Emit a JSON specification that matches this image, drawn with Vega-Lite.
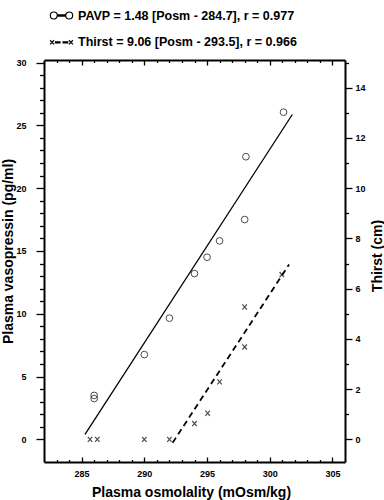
{
  "$schema": "https://vega.github.io/schema/vega-lite/v6.json",
  "autosize": "none",
  "width": 301,
  "height": 402,
  "padding": {"left": 44, "top": 60, "right": 39, "bottom": 38},
  "config": {
    "font": "Liberation Sans",
    "view": {"stroke": null}
  },
  "datasets": {
    "vasoPoints": [
      {"osm": 286.0, "vaso": 3.5},
      {"osm": 286.0, "vaso": 3.25},
      {"osm": 290.0, "vaso": 6.75},
      {"osm": 292.0, "vaso": 9.65},
      {"osm": 294.0, "vaso": 13.2},
      {"osm": 295.0, "vaso": 14.5},
      {"osm": 296.0, "vaso": 15.8},
      {"osm": 298.0, "vaso": 17.5},
      {"osm": 298.1, "vaso": 22.5},
      {"osm": 301.1, "vaso": 26.05}
    ],
    "vasoLine": [
      {"osm": 285.27, "vaso": 0.4},
      {"osm": 301.8, "vaso": 25.86}
    ],
    "thirstPoints": [
      {"osm": 285.67, "thirst": 0},
      {"osm": 286.25, "thirst": 0},
      {"osm": 290.0, "thirst": 0},
      {"osm": 292.0, "thirst": 0},
      {"osm": 294.0, "thirst": 0.63},
      {"osm": 295.05, "thirst": 1.04},
      {"osm": 296.0, "thirst": 2.29},
      {"osm": 298.0, "thirst": 3.68},
      {"osm": 298.0, "thirst": 5.27},
      {"osm": 300.96, "thirst": 6.56}
    ],
    "thirstLine": [
      {"osm": 292.26, "thirst": -0.13},
      {"osm": 301.54, "thirst": 6.96}
    ],
    "legendRows": [
      {"series": "PAVP = 1.48 [Posm - 284.7], r = 0.977"},
      {"series": "Thirst = 9.06 [Posm - 293.5], r = 0.966"}
    ]
  },
  "layer": [
    {
      "data": {"name": "vasoPoints"},
      "mark": {"type": "point", "shape": "circle", "filled": false, "stroke": "black", "strokeWidth": 1, "size": 45},
      "encoding": {
        "x": {
          "field": "osm", "type": "quantitative",
          "scale": {"domain": [282, 306], "nice": false, "zero": false},
          "axis": {
            "orient": "bottom",
            "grid": false,
            "values": [283,284,285,286,287,288,289,290,291,292,293,294,295,296,297,298,299,300,301,302,303,304,305],
            "labelExpr": "datum.value % 5 === 0 ? datum.label : ''",
            "labelOverlap": false,
            "tickSize": {"condition": {"test": "datum.value % 5 === 0", "value": -5}, "value": -2.5},
            "tickColor": "black", "tickWidth": 1.3,
            "domainColor": "black", "domainWidth": 2,
            "labelColor": "black", "labelFontSize": 9, "labelFontWeight": "bold",
            "labelPadding": 12,
            "title": "Plasma osmolality (mOsm/kg)",
            "titleColor": "black", "titleFontWeight": "bold",
            "titleFontSize": 14,
            "titleX": 147,
            "titlePadding": 5
          }
        },
        "y": {
          "field": "vaso", "type": "quantitative",
          "scale": {"domain": [-1.8, 30.2], "nice": false, "zero": false},
          "axis": {
            "orient": "left",
            "grid": false,
            "values": [0,1,2,3,4,5,6,7,8,9,10,11,12,13,14,15,16,17,18,19,20,21,22,23,24,25,26,27,28,29,30],
            "labelExpr": "datum.value % 5 === 0 ? datum.label : ''",
            "labelOverlap": false,
            "tickSize": {"condition": {"test": "datum.value % 5 === 0", "value": 8}, "value": 4.5},
            "tickColor": "black", "tickWidth": 1.3,
            "domainColor": "black", "domainWidth": 2,
            "labelColor": "black", "labelFontSize": 9, "labelFontWeight": "bold",
            "labelPadding": 10,
            "title": "Plasma vasopressin (pg/ml)",
            "titleColor": "black", "titleFontWeight": "bold",
            "titleFontSize": 14,
            "titleBaseline": "bottom",
            "titleX": -29,
            "titleY": 191
          }
        }
      }
    },
    {
      "data": {"name": "vasoLine"},
      "mark": {"type": "line", "color": "black", "strokeWidth": 1.3},
      "encoding": {
        "x": {"field": "osm", "type": "quantitative", "scale": {"domain": [282, 306], "nice": false, "zero": false}, "axis": null},
        "y": {"field": "vaso", "type": "quantitative", "scale": {"domain": [-1.8, 30.2], "nice": false, "zero": false}, "axis": null}
      }
    },
    {
      "data": {"name": "thirstPoints"},
      "mark": {"type": "point", "shape": "M-1,-1.15L1,1.15M-1,1.15L1,-1.15", "filled": false, "stroke": "black", "strokeWidth": 1.2, "size": 20},
      "encoding": {
        "x": {
          "field": "osm", "type": "quantitative",
          "scale": {"domain": [282, 306], "nice": false, "zero": false},
          "axis": {
            "orient": "top",
            "grid": false,
            "values": [283,284,285,286,287,288,289,290,291,292,293,294,295,296,297,298,299,300,301,302,303,304,305],
            "labels": false,
            "tickSize": {"condition": {"test": "datum.value % 5 === 0", "value": -5}, "value": -2.5},
            "tickColor": "black", "tickWidth": 1.3,
            "domainColor": "black", "domainWidth": 2,
            "title": null
          }
        },
        "y": {
          "field": "thirst", "type": "quantitative",
          "scale": {"domain": [-0.9, 15.1], "nice": false, "zero": false},
          "axis": {
            "orient": "right",
            "grid": false,
            "values": [0,1,2,3,4,5,6,7,8,9,10,11,12,13,14,15],
            "labelExpr": "datum.value % 2 === 0 ? datum.label : ''",
            "labelOverlap": false,
            "tickSize": {"condition": {"test": "datum.value % 2 === 0", "value": 7}, "value": 3.5},
            "tickColor": "black", "tickWidth": 1.3,
            "domainColor": "black", "domainWidth": 2,
            "labelColor": "black", "labelFontSize": 9, "labelFontWeight": "bold",
            "labelPadding": 3,
            "title": "Thirst (cm)",
            "titleColor": "black", "titleFontWeight": "bold",
            "titleFontSize": 14,
            "titleAngle": 270,
            "titleBaseline": "top",
            "titleY": 195.5,
            "titlePadding": 5
          }
        }
      }
    },
    {
      "data": {"name": "thirstLine"},
      "mark": {"type": "line", "color": "black", "strokeWidth": 1.8, "strokeDash": [6, 4]},
      "encoding": {
        "x": {"field": "osm", "type": "quantitative", "scale": {"domain": [282, 306], "nice": false, "zero": false}, "axis": null},
        "y": {"field": "thirst", "type": "quantitative", "scale": {"domain": [-0.9, 15.1], "nice": false, "zero": false}, "axis": null}
      }
    },
    {
      "data": {"name": "legendRows"},
      "mark": {"type": "point", "filled": true, "fill": "white", "stroke": "black", "strokeWidth": 1.2, "opacity": 0},
      "encoding": {
        "shape": {
          "field": "series", "type": "nominal",
          "scale": {
            "domain": ["PAVP = 1.48 [Posm - 284.7], r = 0.977", "Thirst = 9.06 [Posm - 293.5], r = 0.966"],
            "range": [
              "M-0.93,0A0.29,0.29,0,1,0,-0.35,0A0.29,0.29,0,1,0,-0.93,0ZM-0.35,-0.045L0.35,-0.045L0.35,0.045L-0.35,0.045ZM0.35,0A0.29,0.29,0,1,0,0.93,0A0.29,0.29,0,1,0,0.35,0Z",
              "M-0.95,-0.17L-0.62,0.17M-0.95,0.17L-0.62,-0.17M-0.5,-0.045L-0.13,-0.045L-0.13,0.045L-0.5,0.045ZM0.13,-0.045L0.52,-0.045L0.52,0.045L0.13,0.045ZM0.62,-0.17L0.95,0.17M0.62,0.17L0.95,-0.17"
            ]
          },
          "legend": {
            "title": null,
            "orient": "none",
            "legendX": 4.5,
            "legendY": -57.5,
            "padding": 0,
            "symbolSize": 576,
            "symbolStrokeWidth": 1.2,
            "symbolOpacity": 1,
            "labelFontSize": 12.5,
            "labelFontWeight": "bold",
            "labelColor": "black",
            "labelOffset": 3.5,
            "labelLimit": 400,
            "rowPadding": 6.8
          }
        }
      }
    }
  ],
  "resolve": {"scale": {"y": "independent"}, "axis": {"x": "independent"}}
}
